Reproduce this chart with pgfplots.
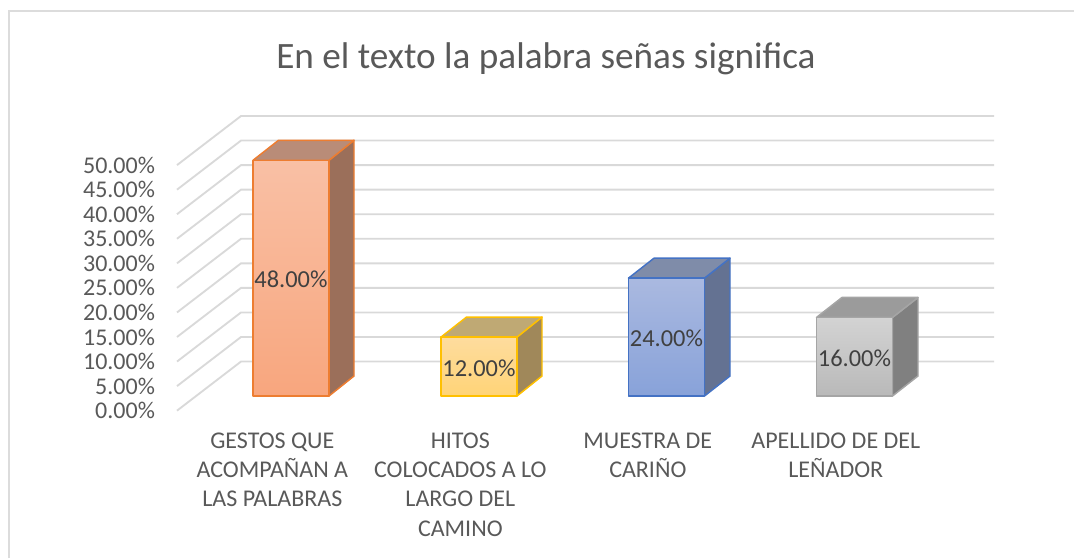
\documentclass[border=0pt]{standalone}
\usepackage{pgfplots}
\pgfplotsset{compat=1.18}
\usepackage{fontspec}
\setmainfont{Carlito}
\definecolor{txt}{HTML}{595959}
\definecolor{lab}{HTML}{404040}
\definecolor{grd}{HTML}{D9D9D9}
\definecolor{frm}{HTML}{DCDCDC}
\definecolor{oE}{HTML}{ED7D31}\definecolor{oT}{HTML}{F9C0A5}\definecolor{oB}{HTML}{F8A67E}\definecolor{oS}{HTML}{9B6F5A}\definecolor{oU}{HTML}{B98C78}
\definecolor{yE}{HTML}{FFC000}\definecolor{yT}{HTML}{FEDC9E}\definecolor{yB}{HTML}{FFD477}\definecolor{yS}{HTML}{A0885A}\definecolor{yU}{HTML}{BFA974}
\definecolor{bE}{HTML}{4472C4}\definecolor{bT}{HTML}{AAB9E0}\definecolor{bB}{HTML}{88A2D9}\definecolor{bS}{HTML}{647292}\definecolor{bU}{HTML}{7F8CA9}
\definecolor{gE}{HTML}{A5A5A5}\definecolor{gT}{HTML}{D3D3D3}\definecolor{gB}{HTML}{B9B9B9}\definecolor{gS}{HTML}{808080}\definecolor{gU}{HTML}{9B9B9B}
\pgfplotsset{
  gl/.style={grd, line width=1.4pt},
  face/.style={yshift=11pt, line width=1.1pt, line join=round},
  front/.style={ybar, bar shift=0pt, bar width=56.7pt, yshift=11pt, line width=1.1pt, line join=round},
}
\begin{document}
\begin{tikzpicture}
\path[use as bounding box] (0,0) rectangle (805.5pt,418.5pt);
\draw[frm, line width=1.5pt] (6.75pt,0pt) -- (6.75pt,410.6pt) -- (805.5pt,410.6pt);
\node[text=txt, font=\fontsize{27.9}{32}\selectfont, anchor=center] at (409.5pt,374.5pt) {En el texto la palabra señas significa};
\begin{axis}[
  at={(132.75pt,110.5pt)}, anchor=south west,
  scale only axis, width=612.75pt, height=221pt,
  xmin=177, xmax=994, ymin=0, ymax=60,
  clip=false,
  axis line style={draw=none},
  tick style={draw=none},
  /pgf/number format/assume math mode=true,
  ytick={0,5,10,15,20,25,30,35,40,45,50},
  yticklabels={0.00\%,5.00\%,10.00\%,15.00\%,20.00\%,25.00\%,30.00\%,35.00\%,40.00\%,45.00\%,50.00\%},
  y tick label style={font=\fontsize{18}{20}\selectfont, text=txt, anchor=east, xshift=-13pt},
  xtick={291,479,666.5,854.5},
  xticklabels={{GESTOS QUE\\ACOMPAÑAN A\\LAS PALABRAS},{HITOS\\COLOCADOS A LO\\LARGO DEL\\CAMINO},{MUESTRA DE\\CARIÑO},{APELLIDO DE DEL\\LEÑADOR}},
  x tick label style={font=\fontsize{18}{22}\selectfont, text=txt, align=center, anchor=north, xshift=-14pt, yshift=-13pt},
]
% side wall and back wall gridlines
\addplot[gl] coordinates {(177,0)(241,10)(994,10)};
\addplot[gl] coordinates {(177,5)(241,15)(994,15)};
\addplot[gl] coordinates {(177,10)(241,20)(994,20)};
\addplot[gl] coordinates {(177,15)(241,25)(994,25)};
\addplot[gl] coordinates {(177,20)(241,30)(994,30)};
\addplot[gl] coordinates {(177,25)(241,35)(994,35)};
\addplot[gl] coordinates {(177,30)(241,40)(994,40)};
\addplot[gl] coordinates {(177,35)(241,45)(994,45)};
\addplot[gl] coordinates {(177,40)(241,50)(994,50)};
\addplot[gl] coordinates {(177,45)(241,55)(994,55)};
\addplot[gl] coordinates {(177,50)(241,60)(994,60)};
% bar 1: 48
\addplot[face, draw=oE, fill=oS] coordinates {(329,48)(354,52.07)(354,4.07)(329,0)} -- cycle;
\addplot[face, draw=oE, fill=oU] coordinates {(253,48)(278.5,52.07)(354,52.07)(329,48)} -- cycle;
\addplot[front, draw=oE, top color=oT, bottom color=oB] coordinates {(291,48)};
% bar 2: 12
\addplot[face, draw=yE, fill=yS] coordinates {(517,12)(542,16.07)(542,4.07)(517,0)} -- cycle;
\addplot[face, draw=yE, fill=yU] coordinates {(441,12)(466.5,16.07)(542,16.07)(517,12)} -- cycle;
\addplot[front, draw=yE, top color=yT, bottom color=yB] coordinates {(479,12)};
% bar 3: 24
\addplot[face, draw=bE, fill=bS] coordinates {(704.5,24)(730,28.07)(730,4.07)(704.5,0)} -- cycle;
\addplot[face, draw=bE, fill=bU] coordinates {(628.5,24)(654,28.07)(730,28.07)(704.5,24)} -- cycle;
\addplot[front, draw=bE, top color=bT, bottom color=bB] coordinates {(666.5,24)};
% bar 4: 16
\addplot[face, draw=gE, fill=gS] coordinates {(892.5,16)(918,20.07)(918,4.07)(892.5,0)} -- cycle;
\addplot[face, draw=gE, fill=gU] coordinates {(816.5,16)(842,20.07)(918,20.07)(892.5,16)} -- cycle;
\addplot[front, draw=gE, top color=gT, bottom color=gB] coordinates {(854.5,16)};
% data labels
\begin{scope}[every node/.style={text=lab, font=\fontsize{18.3}{20}\selectfont, yshift=10pt, inner sep=0pt}]
\node at (axis cs:291,24) {48.00\%};
\node at (axis cs:479,6) {12.00\%};
\node at (axis cs:666.5,12) {24.00\%};
\node at (axis cs:854.5,8) {16.00\%};
\end{scope}
\end{axis}
\end{tikzpicture}
\end{document}
